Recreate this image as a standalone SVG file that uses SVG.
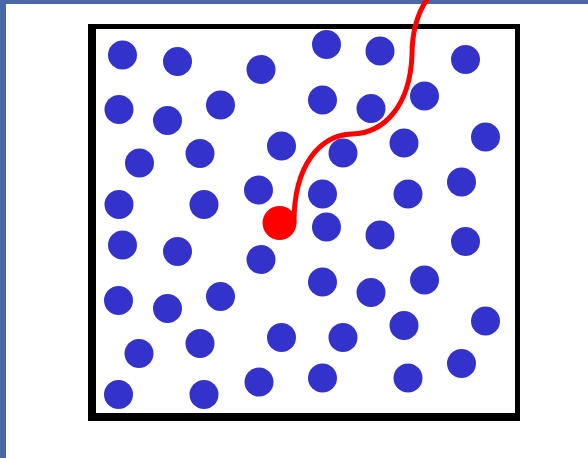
<svg xmlns="http://www.w3.org/2000/svg" width="588" height="458" viewBox="0 0 588 458">
<style>
.p{fill:#3333cc}
.r{fill:#ff0000}
.path{fill:none;stroke:#ff0000;stroke-width:5;stroke-linecap:round}
</style>
<rect x="0" y="0" width="588" height="458" fill="#ffffff"/>
<rect x="0" y="0" width="588" height="4" fill="#4868a8"/>
<rect x="0" y="0" width="6" height="458" fill="#4868a8"/>
<g id="box">
<path d="M88 24H520V421H88Z M96 29V413H515V29Z" fill="#000000" fill-rule="evenodd"/>
</g>
<g id="particles">
<g id="p1"><circle class="p" cx="122.5" cy="55" r="14.5"/></g>
<g id="p2"><circle class="p" cx="177.5" cy="61.5" r="14.5"/></g>
<g id="p3"><circle class="p" cx="261" cy="69.5" r="14.5"/></g>
<g id="p4"><circle class="p" cx="326.5" cy="44.5" r="14.5"/></g>
<g id="p5"><circle class="p" cx="380" cy="51" r="14.5"/></g>
<g id="p6"><circle class="p" cx="465.5" cy="59.5" r="14.5"/></g>
<g id="p7"><circle class="p" cx="119" cy="109.5" r="14.5"/></g>
<g id="p8"><circle class="p" cx="167.5" cy="120.5" r="14.5"/></g>
<g id="p9"><circle class="p" cx="220.5" cy="105" r="14.5"/></g>
<g id="p10"><circle class="p" cx="322.5" cy="100" r="14.5"/></g>
<g id="p11"><circle class="p" cx="371" cy="108.5" r="14.5"/></g>
<g id="p12"><circle class="p" cx="424.5" cy="96" r="14.5"/></g>
<g id="p13"><circle class="p" cx="139.5" cy="163" r="14.5"/></g>
<g id="p14"><circle class="p" cx="200" cy="153.5" r="14.5"/></g>
<g id="p15"><circle class="p" cx="281.5" cy="146" r="14.5"/></g>
<g id="p16"><circle class="p" cx="343" cy="153" r="14.5"/></g>
<g id="p17"><circle class="p" cx="404" cy="143" r="14.5"/></g>
<g id="p18"><circle class="p" cx="485.5" cy="137" r="14.5"/></g>
<g id="p19"><circle class="p" cx="119" cy="204.5" r="14.5"/></g>
<g id="p20"><circle class="p" cx="204" cy="204.5" r="14.5"/></g>
<g id="p21"><circle class="p" cx="258.5" cy="190" r="14.5"/></g>
<g id="p22"><circle class="p" cx="322.5" cy="194" r="14.5"/></g>
<g id="p23"><circle class="p" cx="408" cy="194" r="14.5"/></g>
<g id="p24"><circle class="p" cx="461.5" cy="182" r="14.5"/></g>
<g id="p25"><circle class="p" cx="122.5" cy="245" r="14.5"/></g>
<g id="p26"><circle class="p" cx="177.5" cy="251.5" r="14.5"/></g>
<g id="p27"><circle class="p" cx="261" cy="259.5" r="14.5"/></g>
<g id="p28"><circle class="p" cx="326.5" cy="227" r="14.5"/></g>
<g id="p29"><circle class="p" cx="380" cy="235" r="14.5"/></g>
<g id="p30"><circle class="p" cx="465.5" cy="241.5" r="14.5"/></g>
<g id="p31"><circle class="p" cx="118.5" cy="300.5" r="14.5"/></g>
<g id="p32"><circle class="p" cx="167.5" cy="308.5" r="14.5"/></g>
<g id="p33"><circle class="p" cx="220.5" cy="296.5" r="14.5"/></g>
<g id="p34"><circle class="p" cx="322.5" cy="282" r="14.5"/></g>
<g id="p35"><circle class="p" cx="371" cy="292.5" r="14.5"/></g>
<g id="p36"><circle class="p" cx="424.5" cy="280" r="14.5"/></g>
<g id="p37"><circle class="p" cx="139" cy="353.5" r="14.5"/></g>
<g id="p38"><circle class="p" cx="200" cy="343.5" r="14.5"/></g>
<g id="p39"><circle class="p" cx="281.5" cy="337.5" r="14.5"/></g>
<g id="p40"><circle class="p" cx="343" cy="337.5" r="14.5"/></g>
<g id="p41"><circle class="p" cx="404" cy="325.5" r="14.5"/></g>
<g id="p42"><circle class="p" cx="485.5" cy="321" r="14.5"/></g>
<g id="p43"><circle class="p" cx="118.5" cy="394.5" r="14.5"/></g>
<g id="p44"><circle class="p" cx="204" cy="394.5" r="14.5"/></g>
<g id="p45"><circle class="p" cx="259" cy="382" r="14.5"/></g>
<g id="p46"><circle class="p" cx="322.5" cy="378" r="14.5"/></g>
<g id="p47"><circle class="p" cx="408" cy="378" r="14.5"/></g>
<g id="p48"><circle class="p" cx="461.5" cy="363.5" r="14.5"/></g>
</g>
<g id="tracer"><circle class="r" cx="279.5" cy="223" r="17"/></g>
<g id="connectors">
<path class="path" d="M294 222C294 165 320 135 352 134C385 133 410 105 412 55C412 30 418 12 428 -2"/>
</g>
</svg>
